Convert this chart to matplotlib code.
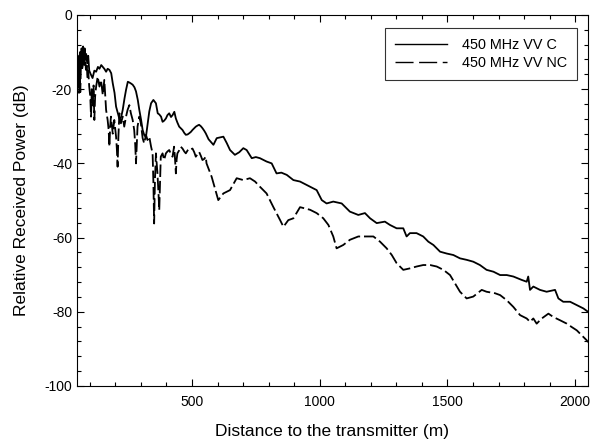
import matplotlib
matplotlib.use("Agg")
import matplotlib.pyplot as plt
from matplotlib.ticker import MultipleLocator
from matplotlib.lines import Line2D

plt.rcParams['font.family'] = ['Liberation Sans', 'DejaVu Sans']
plt.rcParams['axes.unicode_minus'] = False
plt.rcParams['lines.scale_dashes'] = False

# Series C (solid): distance (m), received power (dB)
dist_c = [50, 53, 56, 59, 62, 65, 68, 71, 74, 77, 80, 83, 86, 90, 94, 98, 104, 111, 118, 125,
          132, 138, 145, 151, 157, 164, 170, 177, 184, 190, 197, 203, 210, 216, 223, 229, 236,
          242, 249, 255, 262, 268, 275, 281, 288, 294, 301, 307, 314, 320, 327, 333, 340, 349,
          359, 366, 372, 379, 385, 391, 398, 404, 411, 418, 424, 431, 437, 443, 450, 456, 463,
          470, 476, 483, 489, 496, 502, 509, 515, 522, 528, 535, 541, 548, 554, 565, 584, 597,
          610, 623, 636, 649, 668, 685, 701, 714, 734, 750, 766, 792, 812, 831, 850, 871, 897,
          923, 962, 988, 1008, 1027, 1053, 1086, 1118, 1151, 1177, 1197, 1223, 1255, 1275, 1301,
          1327, 1340, 1353, 1379, 1405, 1425, 1445, 1471, 1497, 1523, 1549, 1575, 1601, 1627,
          1653, 1680, 1706, 1732, 1758, 1790, 1810, 1816, 1823, 1836, 1862, 1888, 1921, 1934,
          1953, 1980, 2006, 2032, 2050]
power_c = [-15, -11, -17, -12, -10, -14, -9, -13, -8.5, -12, -9, -12, -10.5, -13, -11, -15, -16,
           -17, -15, -15.3, -14, -14.5, -13.5, -14, -14.5, -15.3, -14.5, -14.8, -15.7, -18.4, -21,
           -24.7, -26.5, -28, -27.5, -25.6, -22.5, -20.2, -18, -18.2, -18.5, -18.8, -19.5, -20.6,
           -22.9, -25.6, -28.3, -31, -32.5, -32.8, -29.2, -26, -23.8, -22.9, -23.8, -26.5, -26.8,
           -27.4, -28.8, -28.5, -27.9, -27, -26.5, -27.5, -27, -26.1, -27.9, -29, -30.1, -30.5,
           -31, -31.8, -32.3, -32.2, -31.9, -31.5, -31, -30.5, -30.1, -29.8, -29.6, -30, -30.5,
           -31.2, -31.9, -33.5, -35.0, -33.2, -33, -32.8, -34.5, -36.4, -37.7, -37, -35.9, -36.4,
           -38.6, -38.3, -38.6, -39.5, -40.0, -42.7, -42.5, -43.1, -44.5, -44.9, -46.3, -47.2,
           -49.9, -50.8, -50.3, -50.8, -53.0, -53.9, -53.4, -54.8, -56.1, -55.7, -56.6, -57.5,
           -57.5, -59.7, -58.8, -58.8, -59.7, -61.1, -62.0, -63.8, -64.3, -64.7, -65.6, -66.0,
           -66.5, -67.4, -68.7, -69.2, -70.1, -70.1, -70.5, -71.4, -71.9, -70.5, -74.1, -73.2,
           -74.1, -74.6, -74.1, -76.4, -77.3, -77.3, -78.2, -79.1, -80.0]

# Series NC (dashed)
dist_nc = [50, 53, 56, 58, 61, 63, 66, 69, 72, 76, 79, 82, 85, 88, 91, 94, 98, 102, 105, 108,
           111, 115, 118, 121, 125, 131, 138, 144, 151, 157, 164, 170, 174, 177, 180, 183, 190,
           196, 203, 206, 209, 212, 216, 222, 229, 235, 242, 248, 255, 261, 268, 274, 278, 281,
           284, 287, 294, 300, 307, 313, 320, 326, 333, 340, 346, 349, 352, 355, 359, 362, 365,
           369, 372, 375, 378, 385, 391, 398, 404, 411, 418, 424, 430, 433, 437, 440, 443, 450,
           456, 463, 470, 476, 483, 489, 496, 502, 509, 515, 522, 528, 535, 541, 548, 554, 557,
           577, 603, 623, 649, 675, 701, 727, 747, 766, 792, 818, 845, 858, 877, 897, 923, 962,
           988, 1014, 1034, 1053, 1066, 1092, 1118, 1151, 1184, 1210, 1236, 1262, 1282, 1301,
           1327, 1353, 1379, 1405, 1432, 1458, 1484, 1510, 1529, 1549, 1575, 1601, 1634, 1653,
           1686, 1706, 1732, 1758, 1784, 1810, 1823, 1836, 1849, 1869, 1895, 1914, 1941, 1967,
           1986, 2006, 2025, 2045, 2050]
power_nc = [-13, -17, -12, -21, -14, -20.8, -12, -15, -13.9, -10, -14, -11, -14.8, -13, -17, -15,
            -19.3, -22, -27.4, -20, -24.7, -19, -28.3, -22, -19.3, -16.6, -19.3, -17.5, -21.6,
            -17.5, -25.6, -28.3, -31, -35.5, -30, -27.4, -32, -28.3, -32.8, -36, -40.9, -33,
            -26.5, -29.2, -27.4, -30.1, -27.4, -25.6, -24.3, -26.5, -28.3, -31, -35, -40, -35,
            -30.1, -27.4, -29.2, -33.2, -34.6, -32.3, -33.7, -32.8, -35.5, -37.3, -45, -56.2, -45,
            -37.3, -40, -42.7, -48, -52.6, -45, -38.2, -37.3, -39.1, -37.3, -36.8, -36.4, -37.5,
            -38.2, -35.5, -38, -42.7, -39, -37.3, -36.5, -35.5, -36, -36.8, -37.3, -36.5, -36,
            -36.2, -36, -37, -38.2, -37.5, -36.9, -38, -39.1, -38.8, -38.2, -40, -43.6, -49.9,
            -48.1, -47.2, -44, -44.5, -44, -44.9, -46.3, -48.1, -51.7, -55.3, -57.1, -55.3, -54.8,
            -51.8, -52.5, -53.4, -54.8, -56.6, -59.7, -62.9, -62.0, -60.6, -59.7, -59.7, -59.7,
            -61.1, -62.9, -64.7, -66.9, -68.7, -68.3, -67.8, -67.4, -67.4, -67.8, -68.7, -70.1,
            -72.3, -74.6, -76.4, -75.9, -74.1, -74.6, -75.0, -75.5, -76.9, -78.7, -80.9, -81.8,
            -82.7, -81.8, -83.2, -81.8, -80.5, -81.4, -82.3, -83.2, -84.1, -85.0, -86.3, -87.7,
            -88.2]

labels = ['450 MHz VV C', '450 MHz VV NC']

fig = plt.figure(figsize=(5.93, 4.43), dpi=100)
ax = fig.add_axes([0.1298, 0.1287, 0.8618, 0.8375])

ax.plot(dist_c, power_c, color='black', lw=1.3)
ax.plot(dist_nc, power_nc, color='black', lw=1.3, dashes=(9, 2.8))

ax.set_xlim(50, 2050)
ax.set_ylim(-100, 0)
ax.xaxis.set_major_locator(MultipleLocator(500))
ax.xaxis.set_minor_locator(MultipleLocator(100))
ax.yaxis.set_major_locator(MultipleLocator(20))
ax.yaxis.set_minor_locator(MultipleLocator(4))
ax.tick_params(which='both', direction='in', top=True, right=True, labelsize=10, width=0.8)
ax.tick_params(axis='x', which='major', pad=6.5)
ax.tick_params(which='major', length=5)
ax.tick_params(which='minor', length=3)
for s in ax.spines.values():
    s.set_linewidth(0.8)

ax.set_xlabel('Distance to the transmitter (m)', fontsize=12.5, labelpad=11)
ax.set_ylabel('Relative Received Power (dB)', fontsize=12.5, labelpad=11)

handles = [Line2D([], [], color='black', lw=1.0),
           Line2D([], [], color='black', lw=1.0, dashes=(13, 4))]
leg = ax.legend(handles, labels, loc='upper right', bbox_to_anchor=(0.978, 0.965),
                borderaxespad=0, fontsize=10.4, frameon=True, fancybox=False,
                edgecolor='black', handlelength=3.6, handletextpad=1.04,
                borderpad=0.68, labelspacing=0.32)
leg.get_frame().set_linewidth(0.8)

fig.savefig('out.png', dpi=100)
